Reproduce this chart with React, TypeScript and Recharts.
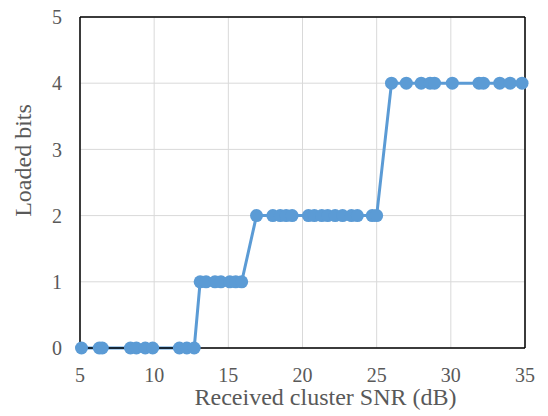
import { LineChart, Line, XAxis, YAxis, CartesianGrid, ReferenceLine, Label } from 'recharts';

// received cluster SNR (dB) and the bits loaded for each cluster
const snr = [
  5.1, 6.3, 6.5, 8.4, 8.8, 9.4, 9.9, 11.7, 12.2, 12.7,
  13.1, 13.5, 14.1, 14.5, 15.1, 15.5, 15.9,
  16.9, 18.0, 18.5, 18.9, 19.3, 20.4, 20.8, 21.3, 21.7, 22.2, 22.7, 23.3, 23.7, 24.7, 25.0,
  26.0, 27.0, 28.0, 28.6, 28.9, 30.1, 31.9, 32.2, 33.3, 34.0, 34.8,
];
const bits = [
  0, 0, 0, 0, 0, 0, 0, 0, 0, 0,
  1, 1, 1, 1, 1, 1, 1,
  2, 2, 2, 2, 2, 2, 2, 2, 2, 2, 2, 2, 2, 2, 2,
  4, 4, 4, 4, 4, 4, 4, 4, 4, 4, 4,
];
const xTicks = [5, 10, 15, 20, 25, 30, 35];
const yTicks = [0, 1, 2, 3, 4, 5];

const data = snr.map((x, i) => ({ snr: x, bits: bits[i] }));

const FONT = '"Liberation Serif", "Times New Roman", serif';
const TEXT = '#595959';
const BLUE = '#5B9BD5';

function XTitle({ viewBox }: any) {
  const { x, y, width } = viewBox;
  return (
    <text x={x + width / 2 + 23} y={y + 57} textAnchor="middle" fontFamily={FONT} fontSize={24} fill={TEXT}>
      Received cluster SNR (dB)
    </text>
  );
}

function YTitle({ viewBox }: any) {
  const { y, height } = viewBox;
  const cx = 31;
  const cy = y + height / 2 - 22;
  return (
    <text x={cx} y={cy} transform={`rotate(-90, ${cx}, ${cy})`} textAnchor="middle" fontFamily={FONT} fontSize={24} fill={TEXT}>
      Loaded bits
    </text>
  );
}

export default function App() {
  const tickStyle = { fontFamily: FONT, fontSize: 20, fill: TEXT };
  return (
    <div style={{ position: 'absolute', left: 0, top: 0, background: '#fff' }}>
      <LineChart width={548} height={416} data={data} margin={{ top: 17, right: 23, bottom: 0, left: 0 }}>
        <CartesianGrid stroke="#d9d9d9" strokeWidth={1} />
        <XAxis
          dataKey="snr"
          type="number"
          domain={[5, 35]}
          ticks={xTicks}
          tickLine={false}
          tickSize={0}
          tickMargin={20}
          height={68}
          axisLine={{ stroke: '#000', strokeWidth: 1.5 }}
          tick={tickStyle}
        >
          <Label content={<XTitle />} />
        </XAxis>
        <YAxis
          type="number"
          domain={[0, 5]}
          ticks={yTicks}
          tickLine={false}
          tickSize={0}
          tickMargin={18}
          width={80}
          axisLine={{ stroke: '#000', strokeWidth: 1.5 }}
          tick={tickStyle}
        >
          <Label content={<YTitle />} />
        </YAxis>
        <ReferenceLine y={5} stroke="#000" strokeWidth={1.5} ifOverflow="visible" />
        <ReferenceLine x={35} stroke="#000" strokeWidth={1.5} ifOverflow="visible" />
        <Line
          dataKey="bits"
          type="linear"
          stroke={BLUE}
          strokeWidth={3}
          dot={{ r: 6.5, fill: BLUE, stroke: BLUE, strokeWidth: 0 }}
          activeDot={false}
          isAnimationActive={false}
        />
      </LineChart>
    </div>
  );
}
